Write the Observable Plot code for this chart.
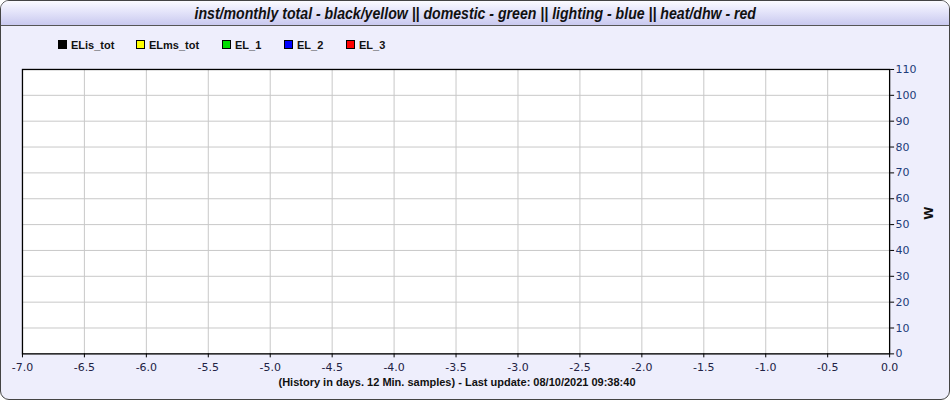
<!DOCTYPE html>
<html>
<head>
<meta charset="utf-8">
<script src="https://cdn.jsdelivr.net/npm/d3@7"></script>
<script src="https://cdn.jsdelivr.net/npm/@observablehq/plot@0.6"></script>
<style>
  html, body { margin: 0; padding: 0; background: #fff; }
  #box { position: absolute; left: 0; top: 0; width: 948px; height: 398px; border: 1px solid #444; border-radius: 9px; background: #eeeefc; overflow: hidden; font-family: "DejaVu Sans", Verdana, sans-serif; }
  #title { position: absolute; left: 0; top: 0; width: 948px; height: 24px; background: linear-gradient(#fbfbff 0%, #e4e4fa 45%, #c9c9ef 100%); border-bottom: 1px solid #555; text-align: center; font-family: "Liberation Sans", Arial, sans-serif; font-style: italic; font-weight: bold; font-size: 17px; line-height: 25px; color: #111; }
  #title span { display: inline-block; transform: scaleX(0.83); transform-origin: 50% 50%; white-space: nowrap; }
  #legend { position: absolute; left: 57px; top: 38px; font-size: 11px; font-weight: bold; color: #111; font-family: "Liberation Sans", Arial, sans-serif; }
  .item { position: absolute; white-space: nowrap; top: 0; }
  .sw { display: inline-block; width: 7px; height: 7px; border: 1px solid #000; margin-right: 4px; vertical-align: 0px; }
  #chart { position: absolute; left: 0; top: 55px; }
  #caption { position: absolute; left: 0; width: 912px; top: 375px; text-align: center; font-size: 11px; font-weight: bold; color: #111; font-family: "Liberation Sans", Arial, sans-serif; }
  #ylab { position: absolute; left: 921px; top: 205px; font-size: 12px; font-weight: bold; color: #111; transform: rotate(-90deg); }
</style>
</head>
<body>
<div id="box">
  <div id="title"><span id="titletext"></span></div>
  <div id="legend"></div>
  <div id="chart"></div>
  <div id="caption"></div>
  <div id="ylab"></div>
</div>
<script>
const titleText = "inst/monthly total - black/yellow || domestic - green || lighting - blue || heat/dhw - red";
const captionText = "(History in days. 12 Min. samples) - Last update: 08/10/2021 09:38:40";
const yLabel = "W";
const seriesNames = ["ELis_tot", "ELms_tot", "EL_1", "EL_2", "EL_3"];
const seriesColors = ["#000000", "#ffff00", "#00dd00", "#0000ff", "#ff0000"];
const legendOffsets = [0, 78, 164, 226, 288];
// No samples are plotted in the reference (empty history)
const ELis_tot = [];
const ELms_tot = [];
const EL_1 = [];
const EL_2 = [];
const EL_3 = [];
const xTicks = [-7, -6.5, -6, -5.5, -5, -4.5, -4, -3.5, -3, -2.5, -2, -1.5, -1, -0.5, 0];
const yTicks = [0, 10, 20, 30, 40, 50, 60, 70, 80, 90, 100, 110];
const xDomain = [-7, 0];
const yDomain = [0, 110];

document.getElementById("titletext").textContent = titleText;
document.getElementById("caption").textContent = captionText;
document.getElementById("ylab").textContent = yLabel;

const leg = document.getElementById("legend");
seriesNames.forEach((n, i) => {
  const it = document.createElement("span");
  it.className = "item";
  it.style.left = legendOffsets[i] + "px";
  const sw = document.createElement("span");
  sw.className = "sw";
  sw.style.background = seriesColors[i];
  it.appendChild(sw);
  it.appendChild(document.createTextNode(n));
  leg.appendChild(it);
});

const seriesData = [ELis_tot, ELms_tot, EL_1, EL_2, EL_3];
const lineMarks = seriesData.map((d, i) => Plot.line(d, {x: "x", y: "y", stroke: seriesColors[i], strokeWidth: 1}));

const plot = Plot.plot({
  width: 950,
  height: 345,
  marginLeft: 21,
  marginRight: 60,
  marginTop: 13,
  marginBottom: 47,
  style: {background: "transparent", fontFamily: "DejaVu Sans, Verdana, sans-serif", fontSize: "11px"},
  x: {domain: xDomain, label: null},
  y: {domain: yDomain, label: null},
  marks: [
    Plot.frame({fill: "#ffffff", stroke: "none"}),
    Plot.gridX(xTicks, {stroke: "#c8c8c8", strokeOpacity: 1}),
    Plot.gridY(yTicks, {stroke: "#c8c8c8", strokeOpacity: 1}),
    ...lineMarks,
    Plot.frame({stroke: "#000", strokeWidth: 1.3}),
    Plot.axisX({ticks: xTicks, tickFormat: d => d.toFixed(1), tickSize: 4, tickPadding: 5, stroke: "#000", fill: "#222244", label: null}),
    Plot.axisY({anchor: "right", ticks: yTicks, tickFormat: d => String(d), tickSize: 4, tickPadding: 2, stroke: "#000", fill: "#1d3c78", label: null})
  ]
});
document.getElementById("chart").appendChild(plot);
</script>
</body>
</html>
